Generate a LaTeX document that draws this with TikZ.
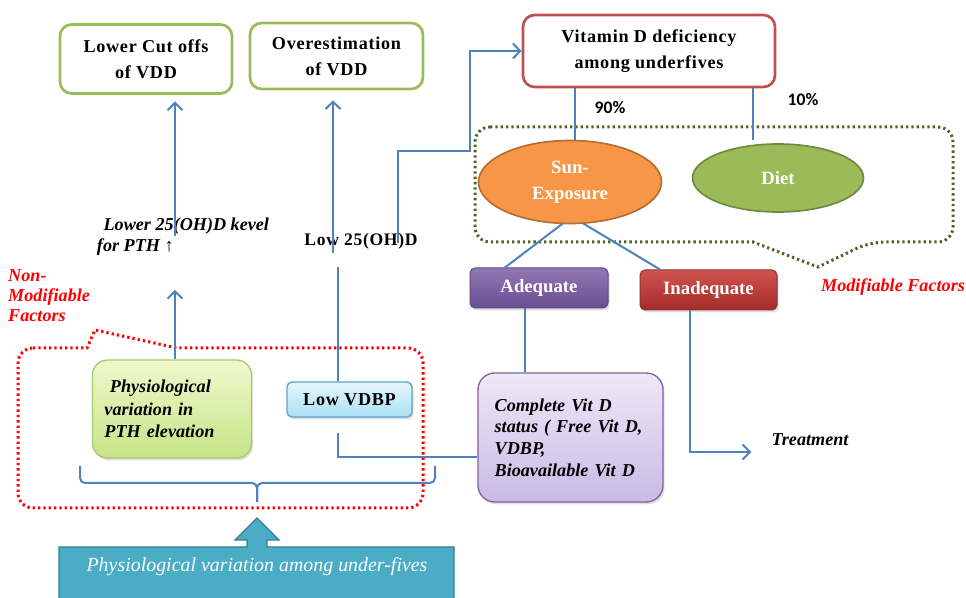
\documentclass[tikz,border=0pt]{standalone}
\usepackage{fontspec}
\setmainfont{Liberation Serif}
\newfontfamily\carlito{Carlito}
\newfontfamily\spaced[LetterSpace=4]{Liberation Serif}
\usetikzlibrary{shapes.geometric,shadows,calc,arrows.meta}
\definecolor{cblue}{HTML}{4F81BD}
\definecolor{gbord}{HTML}{9BBB59}
\definecolor{rbord}{HTML}{C0504D}
\definecolor{sunfill}{HTML}{F79646}
\definecolor{sunbord}{HTML}{B66D31}
\definecolor{dietfill}{HTML}{9BBB59}
\definecolor{dietbord}{HTML}{71893F}
\definecolor{olive}{HTML}{4F6228}
\definecolor{teal}{HTML}{4BACC6}
\definecolor{tealdark}{HTML}{357D91}
\tikzset{
  conn/.style={draw=cblue, line width=0.06cm},
  arr/.style={conn, -{Straight Barb[length=0.22cm,width=0.45cm,line width=0.06cm]}},
  shad/.style={drop shadow={shadow xshift=0.05cm,shadow yshift=-0.07cm,opacity=0.25}},
  titlebox/.style={rounded corners=0.35cm, line width=0.08cm, fill=white, align=center,
    font=\spaced\fontsize{15.5}{22}\selectfont\bfseries, inner sep=0pt},
  whitebox/.style={rounded corners=0.15cm, align=center, text=white,
    font=\fontsize{16}{18}\selectfont\bfseries, inner sep=0pt, line width=0.03cm, shad},
  itxt/.style={font=\fontsize{15.5}{18}\selectfont\bfseries\itshape},
  redtxt/.style={text=red, font=\fontsize{15.5}{17}\selectfont\bfseries\itshape}
}
\begin{document}
\begin{tikzpicture}[x=0.03cm,y=-0.03cm]
\useasboundingbox (0,0) rectangle (966,598);

% dotted groupings
\draw[olive, line width=0.09cm, dash pattern=on 0.07cm off 0.09cm, rounded corners=0.45cm]
  (475,127) -- (953,127) -- (953,242) -- (870,242) [sharp corners] -- (818,267) -- (753,242) [rounded corners=0.45cm] -- (475,242) -- cycle;
\draw[red, line width=0.09cm, dash pattern=on 0.07cm off 0.09cm, rounded corners=0.45cm]
  (18,348) [sharp corners] -- (87,348) -- (95,330) -- (177,348) [rounded corners=0.45cm] -- (423,348) -- (423,508) -- (18,508) -- cycle;

% title boxes
\node[titlebox, draw=gbord, minimum width=5.16cm, minimum height=2.07cm] (lowcut) at (146,59) {Lower Cut offs\\of VDD};
\node[titlebox, draw=gbord, minimum width=5.19cm, minimum height=1.98cm] (overest) at (336.5,56) {Overestimation\\of VDD};
\node[titlebox, draw=rbord, minimum width=7.56cm, minimum height=2.16cm] (vitd) at (649,51) {Vitamin D deficiency\\among underfives};

% ellipses
\node[ellipse, fill=sunfill, draw=sunbord, line width=0.05cm, minimum width=5.49cm, minimum height=2.49cm,
  text=white, align=center, font=\fontsize{16}{22}\selectfont\bfseries, inner sep=0pt] (sun) at (570,182) {Sun-\\Exposure};
\node[ellipse, fill=dietfill, draw=dietbord, line width=0.05cm, minimum width=5.13cm, minimum height=2.04cm,
  text=white, font=\fontsize{16}{18}\selectfont\bfseries, inner sep=0pt] (diet) at (778,178) {Diet};

% coloured boxes
\node[whitebox, top color={rgb,255:red,146;green,119;blue,181}, bottom color={rgb,255:red,104;green,78;blue,145},
  draw={rgb,255:red,96;green,74;blue,123}, minimum width=4.14cm, minimum height=1.2cm] (adeq) at (539,288) {Adequate};
\node[whitebox, top color={rgb,255:red,208;green,84;blue,80}, bottom color={rgb,255:red,165;green,42;blue,40},
  draw={rgb,255:red,140;green,50;blue,48}, minimum width=4.11cm, minimum height=1.2cm] (inadeq) at (708.5,290) {Inadequate};

\node[rounded corners=0.5cm, top color={rgb,255:red,238;green,232;blue,247}, bottom color={rgb,255:red,201;green,186;blue,230},
  draw={rgb,255:red,128;green,100;blue,162}, line width=0.04cm, shad, minimum width=5.55cm, minimum height=3.87cm,
  text width=4.55cm, align=left, inner sep=0pt, font=\fontsize{15.5}{18.5}\selectfont\bfseries\itshape] (complete) at (570.5,437.5)
  {Complete Vit D\\status ( Free Vit D,\\VDBP,\\Bioavailable Vit D};

\node[rounded corners=0.15cm, top color={rgb,255:red,230;green,247;blue,253}, bottom color={rgb,255:red,170;green,223;blue,245},
  draw={rgb,255:red,91;green,163;blue,201}, line width=0.04cm, shad, minimum width=3.75cm, minimum height=1.05cm,
  inner sep=0pt, font=\spaced\fontsize{15.5}{18}\selectfont\bfseries] (lowvdbp) at (349.5,399.5) {Low VDBP};

\node[rounded corners=0.45cm, top color={rgb,255:red,240;green,248;blue,204}, bottom color={rgb,255:red,198;green,228;blue,135},
  draw={rgb,255:red,166;green,204;blue,110}, line width=0.04cm, shad, minimum width=4.77cm, minimum height=2.94cm,
  text width=4.05cm, align=left, inner sep=0pt, font=\fontsize{15.5}{19}\selectfont\bfseries\itshape] (physio) at (172,409)
  {\hspace*{0.3em}Physiological\\variation in\\PTH elevation};

% plain texts
\node[itxt, align=left, inner sep=0pt] (lower25) at (183,237) {\hspace*{0.2cm}Lower 25(OH)D kevel\\for PTH ↑};
\node[font=\spaced\fontsize{15}{18}\selectfont\bfseries, inner sep=0pt] (low25) at (361,241) {Low 25(OH)D};
\node[itxt, inner sep=0pt] (treat) at (810,440) {Treatment};
\node[font=\carlito\fontsize{15}{15}\selectfont\bfseries, inner sep=0pt] (p90) at (610,108) {90\%};
\node[font=\carlito\fontsize{15}{15}\selectfont\bfseries, inner sep=0pt] (p10) at (803,100) {10\%};
\node[redtxt, inner sep=0pt] (modf) at (893,287) {Modifiable Factors};
\node[redtxt, align=left, anchor=west, inner sep=0pt] (nonmod) at (8,296) {Non-\\Modifiable\\Factors};

% helper coordinates
\coordinate (x175) at (175,0);
\coordinate (x333) at (333,0);
\coordinate (x338) at (338,0);
\coordinate (x398) at (398,0);
\coordinate (x575) at (575,0);
\coordinate (x753) at (753,0);
\coordinate (x525) at (525,0);
\coordinate (x690) at (690,0);
\coordinate (bend1) at (470,151);
\coordinate (y290) at (0,290);
\coordinate (y267) at (0,267);
\coordinate (y457) at (0,457);
\coordinate (y452) at (0,452);

% connectors
\draw[arr] ([yshift=-0.55cm]lower25.north -| x175) -- ([yshift=-0.2cm]lowcut.south -| x175);
\draw[arr] (physio.north -| x175) -- (x175 |- y290);
\draw[arr] ([yshift=-0.6cm]low25.north -| x333) -- ([yshift=-0.3cm]overest.south -| x333);
\draw[conn] (lowvdbp.north -| x338) -- (x338 |- y267);
\draw[conn] ([yshift=-0.45cm]lowvdbp.south -| x338) |- (complete.west |- y457);
\draw[arr] ([yshift=-0.3cm]low25.north -| x398) |- (bend1) |- (vitd.west);
\draw[conn] (vitd.south -| x575) -- (sun.north -| x575);
\draw[conn] (vitd.south -| x753) -- ([yshift=0.1cm]diet.north -| x753);
\draw[conn] ([xshift=-0.21cm,yshift=0.03cm]sun.south) -- ([xshift=-1.02cm]adeq.north);
\draw[conn] ([xshift=0.39cm,yshift=0.03cm]sun.south) -- ([xshift=-1.455cm]inadeq.north);
\draw[conn] (adeq.south -| x525) -- (complete.north -| x525);
\draw[arr] (inadeq.south -| x690) |- ([xshift=-0.6cm]treat.west |- y452);

% brace
\draw[conn, rounded corners=0.15cm] (80,466) -- (80,483) -- (257,483) -- (257,502);
\draw[conn, rounded corners=0.15cm] (257,502) -- (257,483) -- (435,483) -- (435,466);

% big arrow
\draw[fill=teal, draw=tealdark, line width=0.04cm] (59,600) -- (59,547) -- (247,547) -- (247,540) -- (235,540) -- (257,518)
  -- (279,540) -- (267,540) -- (267,547) -- (454,547) -- (454,600);
\node[text=white, font=\fontsize{17}{18}\selectfont\itshape, inner sep=0pt] (physvar) at (257,567) {Physiological variation among under-fives};
\end{tikzpicture}
\end{document}
